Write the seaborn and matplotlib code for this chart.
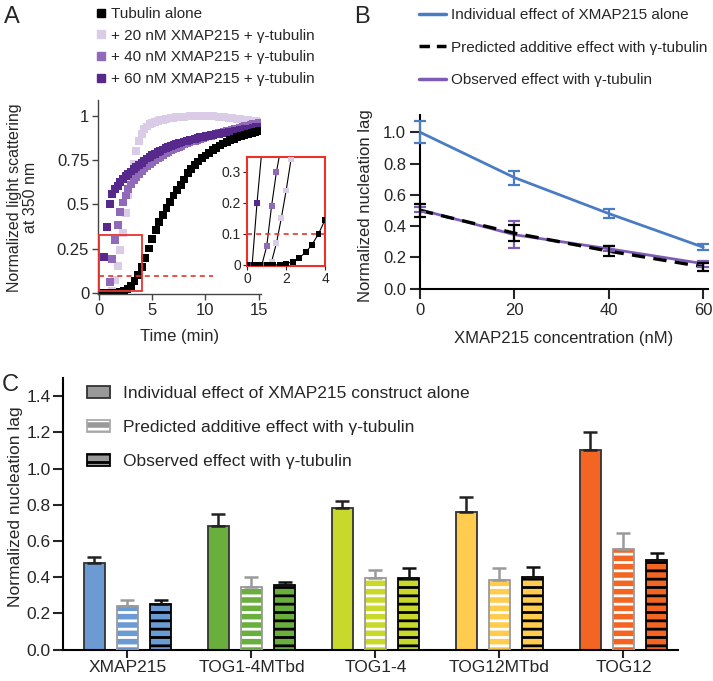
import numpy as np
import pandas as pd
import matplotlib
matplotlib.use("Agg")
import matplotlib.pyplot as plt
import seaborn as sns
from matplotlib.patches import Patch, Rectangle
from matplotlib.lines import Line2D

sns.set_style("ticks")
plt.rcParams['font.family'] = ['Liberation Sans', 'DejaVu Sans']
plt.rcParams['hatch.linewidth'] = 2.0

# ---------------- panel A: light scattering time courses ----------------
# tubulin alone sampled every 20 s, XMAP215 + gamma-tubulin every 15 s
time_alone = np.arange(46) / 3
time_xmap = np.arange(61) / 4

tub_alone = [0, 0, 0, 0, 0, 0, 0.003, 0.01, 0.022, 0.04, 0.065, 0.10, 0.145,
             0.195, 0.25, 0.305, 0.355, 0.40, 0.44, 0.48, 0.515, 0.55, 0.58,
             0.61, 0.64, 0.675, 0.70, 0.722, 0.742, 0.76, 0.776, 0.792, 0.806,
             0.82, 0.833, 0.844, 0.854, 0.863, 0.871, 0.879, 0.886, 0.893,
             0.899, 0.905, 0.911, 0.917]

xmap20 = [0, 0, 0, 0, 0, 0.01, 0.07, 0.15, 0.24, 0.34, 0.45, 0.55, 0.64,
          0.73, 0.80, 0.86, 0.90, 0.925, 0.94, 0.952, 0.96, 0.966, 0.971,
          0.975, 0.979, 0.982, 0.985, 0.988, 0.99, 0.992, 0.994, 0.995,
          0.996, 0.997, 0.998, 0.999, 1.0, 1.0, 1.0, 1.0, 1.0, 0.999, 0.999,
          0.998, 0.997, 0.996, 0.995, 0.993, 0.991, 0.989, 0.987, 0.985,
          0.983, 0.981, 0.979, 0.977, 0.975, 0.973, 0.971, 0.969, 0.967]

xmap40 = [0, 0, 0, 0, 0.06, 0.19, 0.30, 0.385, 0.455, 0.51, 0.55, 0.585,
          0.612, 0.635, 0.655, 0.673, 0.69, 0.703, 0.715, 0.728, 0.74, 0.75,
          0.76, 0.77, 0.78, 0.789, 0.797, 0.805, 0.812, 0.819, 0.826, 0.832,
          0.838, 0.844, 0.85, 0.855, 0.86, 0.865, 0.87, 0.875, 0.879, 0.884,
          0.888, 0.893, 0.897, 0.901, 0.905, 0.909, 0.913, 0.917, 0.921,
          0.925, 0.929, 0.933, 0.937, 0.941, 0.945, 0.949, 0.953, 0.957, 0.96]

xmap60 = [0, 0, 0.2, 0.37, 0.5, 0.56, 0.585, 0.605, 0.625, 0.643, 0.66,
          0.672, 0.686, 0.699, 0.712, 0.724, 0.736, 0.748, 0.759, 0.769,
          0.778, 0.787, 0.795, 0.803, 0.81, 0.817, 0.823, 0.829, 0.835, 0.84,
          0.845, 0.85, 0.855, 0.859, 0.863, 0.867, 0.871, 0.875, 0.879,
          0.882, 0.885, 0.888, 0.891, 0.894, 0.897, 0.9, 0.902, 0.904, 0.906,
          0.908, 0.911, 0.914, 0.917, 0.92, 0.922, 0.924, 0.926, 0.929,
          0.932, 0.935, 0.94]

labels_a = ['Tubulin alone', '+ 20 nM XMAP215 + γ-tubulin',
            '+ 40 nM XMAP215 + γ-tubulin', '+ 60 nM XMAP215 + γ-tubulin']
colors_a = ['black', '#DACBE6', '#9069B8', '#58298C']
threshold = 0.1
inset_xlim = (0, 4)
inset_ylim = (-0.003, 0.349)

# ---------------- panel B: nucleation lag vs XMAP215 ----------------
conc = [0, 20, 40, 60]
lag_alone = [1.0, 0.71, 0.48, 0.265]
lag_alone_err = [0.07, 0.045, 0.03, 0.02]
lag_predicted = [0.5, 0.355, 0.24, 0.14]
lag_predicted_err = [0.04, 0.05, 0.03, 0.025]
lag_observed = [0.505, 0.345, 0.255, 0.16]
lag_observed_err = [0.015, 0.085, 0.015, 0.02]

# ---------------- panel C: constructs ----------------
constructs = ['XMAP215', 'TOG1-4MTbd', 'TOG1-4', 'TOG12MTbd', 'TOG12']
conditions = ['Individual effect of XMAP215 construct alone',
              'Predicted additive effect with γ-tubulin',
              'Observed effect with γ-tubulin']
c_alone = [0.48, 0.685, 0.785, 0.76, 1.10]
c_alone_err = [0.033, 0.066, 0.035, 0.085, 0.10]
c_pred = [0.243, 0.346, 0.396, 0.383, 0.556]
c_pred_err = [0.033, 0.055, 0.042, 0.068, 0.089]
c_obs = [0.254, 0.357, 0.396, 0.40, 0.497]
c_obs_err = [0.018, 0.015, 0.055, 0.055, 0.037]
construct_colors = ['#6B9BD2', '#6AAF3D', '#C8D92B', '#FFCC4F', '#F26522']

W, H = 713, 681


def px_rect(left, top, right, bottom):
    return [left / W, 1 - bottom / H, (right - left) / W, (bottom - top) / H]


fig = plt.figure(figsize=(W / 100, H / 100), dpi=100)

# ---- A main
axA = fig.add_axes(px_rect(97.5, 100, 260.8, 294.5))
series_a = [(time_xmap, xmap20, colors_a[1]), (time_xmap, xmap40, colors_a[2]),
            (time_xmap, xmap60, colors_a[3]), (time_alone, tub_alone, colors_a[0])]
for t, v, c in series_a:
    sns.scatterplot(x=t, y=v, ax=axA, marker='s', s=32, color=c,
                    edgecolor='none', linewidth=0)
axA.add_patch(Rectangle((inset_xlim[0], inset_ylim[0] + 0.013),
                        inset_xlim[1] - inset_xlim[0], inset_ylim[1] - 0.03,
                        fill=False, ec='#E8332B', lw=1.3, zorder=5))
axA.hlines(threshold * 0.94, 0, 10.7, colors='#E8332B', lw=1.2,
           linestyles=(0, (3, 2.5)), zorder=5)
axA.set_xlim(-0.15, 15.2)
axA.set_ylim(-0.01, 1.09)
axA.set_xticks([0, 5, 10, 15])
axA.set_yticks([0, 0.25, 0.5, 0.75, 1])
axA.set_yticklabels(['0', '0.25', '0.5', '0.75', '1'])
axA.tick_params(length=4, width=1, labelsize=12, pad=2, color='#444444')
for s in ['left', 'bottom']:
    axA.spines[s].set_color('#444444')
    axA.spines[s].set_linewidth(1)
sns.despine(ax=axA)
axA.set_xlabel('Time (min)', fontsize=12, va='top')
axA.xaxis.set_label_coords(0.5, -0.175)
axA.set_ylabel('Normalized light scattering\nat 350 nm', fontsize=11.5,
               linespacing=1.1)
axA.yaxis.set_label_coords(-0.364, 0.5)

# ---- A inset
axI = fig.add_axes(px_rect(247.3, 156.7, 325, 265.7))
axI.set_facecolor('white')
for t, v, c in series_a:
    sns.lineplot(x=t, y=v, ax=axI, color='black', lw=0.8, estimator=None)
    sns.scatterplot(x=t, y=v, ax=axI, marker='s', s=18, color=c,
                    edgecolor='none', linewidth=0, zorder=3)
axI.axhline(threshold, color='#E8332B', lw=1.2, ls=(0, (3, 2.5)))
axI.set_xlim(*inset_xlim)
axI.set_ylim(*inset_ylim)
axI.set_xticks([0, 2, 4])
axI.set_yticks([0, 0.1, 0.2, 0.3])
axI.set_yticklabels(['0', '0.1', '0.2', '0.3'])
axI.tick_params(length=3, width=0.8, labelsize=10, pad=1.5)
for s in axI.spines.values():
    s.set_color('#E8332B')
    s.set_linewidth(1.5)
axI.set_xlabel('')
axI.set_ylabel('')

fig.legend([Line2D([], [], marker='s', ls='', color=c, ms=5.5) for c in colors_a],
           labels_a, loc='upper left', bbox_to_anchor=(96 / W, 1 - 7 / H),
           frameon=False, fontsize=11, handlelength=0.7, handletextpad=0.3,
           labelspacing=0.5, borderaxespad=0, borderpad=0)

# ---- B
blue, purple = '#4A7CC4', '#7E5CB5'
axB = fig.add_axes(px_rect(420, 115, 708, 288.7))
sns.lineplot(x=conc, y=lag_alone, ax=axB, color=blue, lw=2)
sns.lineplot(x=conc, y=lag_observed, ax=axB, color=purple, lw=2)
sns.lineplot(x=conc, y=lag_predicted, ax=axB, color='black', lw=2.4,
             linestyle=(0, (4, 2.5)))
for y, e, c in [(lag_alone, lag_alone_err, blue),
                (lag_observed, lag_observed_err, purple),
                (lag_predicted, lag_predicted_err, 'black')]:
    axB.errorbar(conc, y, yerr=e, fmt='none', ecolor=c, elinewidth=1.6,
                 capsize=4, capthick=1.6, clip_on=False, zorder=4)
axB.set_xlim(0, 61)
axB.set_ylim(0, 1.11)
axB.set_xticks(conc)
axB.set_yticks([0, 0.2, 0.4, 0.6, 0.8, 1.0])
axB.set_yticklabels(['0.0', '0.2', '0.4', '0.6', '0.8', '1.0'])
axB.tick_params(length=7, width=1.5, labelsize=12, pad=3)
for s in ['left', 'bottom']:
    axB.spines[s].set_linewidth(1.5)
    axB.spines[s].set_color('black')
sns.despine(ax=axB)
axB.set_xlabel('XMAP215 concentration (nM)', fontsize=12, va='top')
axB.xaxis.set_label_coords(0.5, -0.245)
axB.set_ylabel('Normalized nucleation lag', fontsize=12)
axB.yaxis.set_label_coords(-0.163, 0.48)

fig.legend([Line2D([], [], color=blue, lw=2.5),
            Line2D([], [], color='black', lw=2.5, ls=(0, (3, 2))),
            Line2D([], [], color=purple, lw=2.5)],
           ['Individual effect of XMAP215 alone',
            'Predicted additive effect with γ-tubulin',
            'Observed effect with γ-tubulin'],
           loc='upper left', bbox_to_anchor=(419 / W, 1 - 8 / H),
           frameon=False, fontsize=11, handlelength=1.8, handletextpad=0.3,
           labelspacing=1.22, borderaxespad=0, borderpad=0)

# ---- C
df = pd.DataFrame({
    'construct': constructs * 3,
    'condition': [cond for cond in conditions for _ in constructs],
    'value': c_alone + c_pred + c_obs,
})
axC = fig.add_axes(px_rect(63, 378, 678, 649.7))
sns.barplot(data=df, x='construct', y='value', hue='condition',
            order=constructs, hue_order=conditions, palette=['#999999'] * 3,
            width=0.8, gap=0.36, errorbar=None, legend=False, ax=axC)

conts = [sorted(c, key=lambda p: p.get_x()) for c in axC.containers[:3]]
for i, col in enumerate(construct_colors):
    pa, pp, po = conts[0][i], conts[1][i], conts[2][i]
    pa.set_facecolor(col)
    pa.set_edgecolor('#333333')
    pa.set_linewidth(1.3)
    pp.set_facecolor(col)
    pp.set_edgecolor('white')
    pp.set_hatch('--')
    pp.set_linewidth(0)
    axC.add_patch(Rectangle(pp.get_xy(), pp.get_width(), pp.get_height(),
                            fill=False, ec='#9A9A9A', lw=1.3, zorder=3))
    po.set_facecolor(col)
    po.set_edgecolor('black')
    po.set_hatch('--')
    po.set_linewidth(1.3)

for cont, errs, ec in zip(conts, [c_alone_err, c_pred_err, c_obs_err],
                          ['#222222', '#9A9A9A', '#111111']):
    xs = [p.get_x() + p.get_width() / 2 for p in cont]
    hs = [p.get_height() for p in cont]
    axC.errorbar(xs, hs, yerr=[np.zeros(len(errs)), errs], fmt='none',
                 ecolor=ec, elinewidth=1.8, capsize=5, capthick=1.8, zorder=1)

axC.set_xlim(-0.52, 4.44)
axC.set_ylim(0, 1.5)
axC.set_yticks([0, 0.2, 0.4, 0.6, 0.8, 1.0, 1.2, 1.4])
axC.set_yticklabels(['0.0', '0.2', '0.4', '0.6', '0.8', '1.0', '1.2', '1.4'])
axC.tick_params(axis='y', length=7, width=1.5, labelsize=12.5, pad=2)
axC.tick_params(axis='x', length=6, width=1.5, labelsize=12.5, pad=1.5)
for s in ['left', 'bottom']:
    axC.spines[s].set_linewidth(1.5)
    axC.spines[s].set_color('black')
sns.despine(ax=axC)
axC.set_xlabel('')
axC.set_ylabel('Normalized nucleation lag', fontsize=12.5)
axC.yaxis.set_label_coords(-0.065, 0.525)

leg_handles = [
    Patch(facecolor='#999999', edgecolor='#333333', lw=1.3),
    (Patch(facecolor='#999999', edgecolor='white', hatch='--', lw=0),
     Patch(facecolor='none', edgecolor='#AAAAAA', lw=1.3)),
    Patch(facecolor='#999999', edgecolor='black', hatch='--', lw=1.3),
]
axC.legend(leg_handles, conditions, loc='upper left',
           bbox_to_anchor=(87 / W, 1 - 386 / H), bbox_transform=fig.transFigure,
           frameon=False, fontsize=12.5, handlelength=1.3, handleheight=0.65,
           handletextpad=0.8, labelspacing=1.1, borderaxespad=0, borderpad=0)

# panel letters
for letter, x, y in [('A', 12, 17), ('B', 362, 17), ('C', 10, 385)]:
    fig.text(x / W, 1 - y / H, letter, fontsize=17, ha='center', va='center')

fig.savefig('out.png', dpi=100)
